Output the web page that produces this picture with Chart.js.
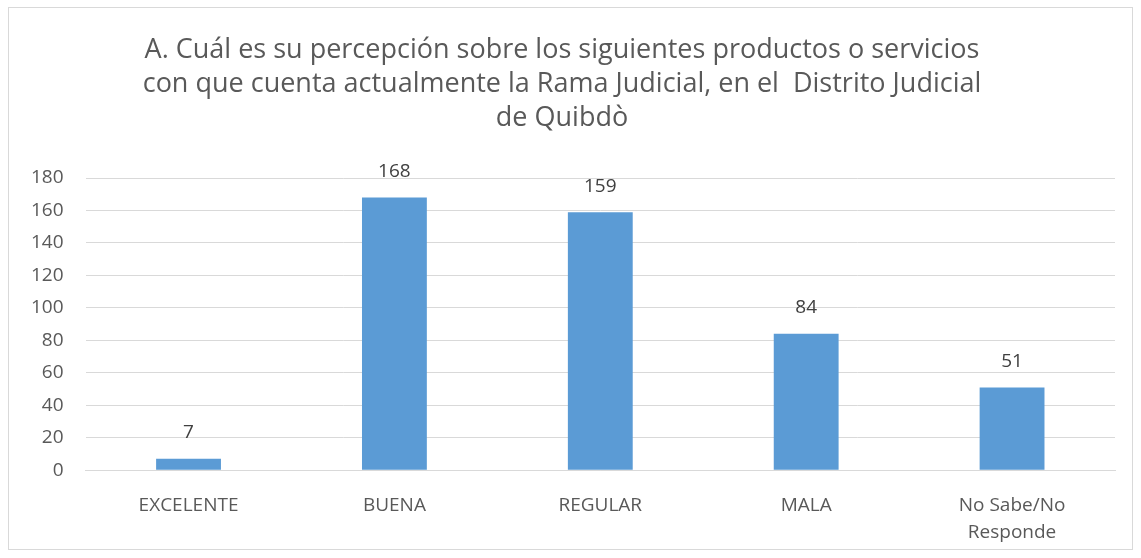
<!DOCTYPE html>
<html lang="es">
<head>
    <meta charset="UTF-8">
    <title>Percepción Rama Judicial - Quibdò</title>
    <script src="https://cdn.jsdelivr.net/npm/chart.js"></script>
    <style>
        html, body { margin: 0; padding: 0; background: #fff; }
        #wrap { width: 1141px; height: 558px; position: relative; }
    </style>
</head>
<body>
    <div id="wrap"><canvas id="grafico" width="1141" height="558"></canvas></div>

    <script>
        // datos
        const categorias = ['EXCELENTE', 'BUENA', 'REGULAR', 'MALA', ['No Sabe/No', 'Responde']];
        const respuestas = [7, 168, 159, 84, 51];
        const tituloLineas = [
            'A. Cuál es su percepción sobre los siguientes productos o servicios',
            'con que cuenta actualmente la Rama Judicial, en el  Distrito Judicial',
            'de Quibdò'
        ];

        const fuente = '"Open Sans", Lato, sans-serif';

        // etiquetas encima de cada barra
        const etiquetas = {
            id: 'etiquetas',
            afterDatasetsDraw(chart) {
                const c = chart.ctx;
                const meta = chart.getDatasetMeta(0);
                c.save();
                c.fillStyle = '#404040';
                c.font = '19px ' + fuente;
                c.textAlign = 'center';
                c.textBaseline = 'middle';
                meta.data.forEach((bar, i) => {
                    c.fillText(respuestas[i], bar.x, bar.y - 26);
                });
                c.restore();
            }
        };

        // marco gris alrededor del grafico
        const marco = {
            id: 'marco',
            beforeDraw(chart) {
                const c = chart.ctx;
                c.save();
                c.fillStyle = '#fff';
                c.fillRect(0, 0, chart.width, chart.height);
                c.strokeStyle = '#d9d9d9';
                c.lineWidth = 1;
                c.strokeRect(8.5, 7.5, 1124, 542);
                c.restore();
            }
        };

        const ctx = document.getElementById('grafico').getContext('2d');
        new Chart(ctx, {
            type: 'bar',
            data: {
                labels: categorias,
                datasets: [{
                    data: respuestas,
                    backgroundColor: '#5b9bd5',
                    barPercentage: 0.315,
                    categoryPercentage: 1
                }]
            },
            options: {
                responsive: false,
                animation: false,
                layout: { padding: { left: 9, right: 26, top: 28, bottom: -10 } },
                plugins: {
                    legend: { display: false },
                    tooltip: { enabled: false },
                    title: {
                        display: true,
                        text: tituloLineas,
                        color: '#595959',
                        font: { family: fuente, size: 27, weight: 'normal', lineHeight: 1.26 },
                        padding: { top: 5, bottom: 43 }
                    }
                },
                scales: {
                    x: {
                        grid: { display: false, drawTicks: false },
                        border: { color: '#d9d9d9', width: 1 },
                        ticks: {
                            color: '#595959',
                            font: { family: fuente, size: 19, lineHeight: 1.47 },
                            padding: 21,
                            maxRotation: 0
                        }
                    },
                    y: {
                        min: 0,
                        max: 180,
                        ticks: {
                            stepSize: 20,
                            color: '#595959',
                            font: { family: fuente, size: 19 },
                            padding: 22
                        },
                        grid: { color: '#d9d9d9', drawTicks: false },
                        border: { display: false }
                    }
                }
            },
            plugins: [marco, etiquetas]
        });
    </script>
</body>
</html>
